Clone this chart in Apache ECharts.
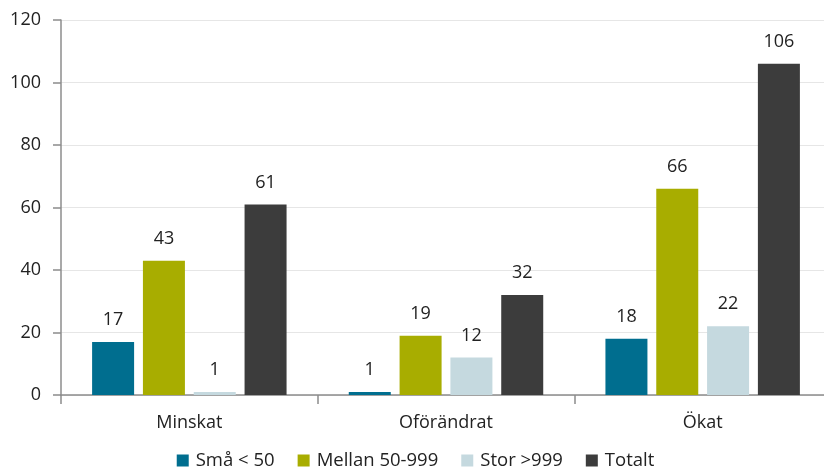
<!DOCTYPE html>
<html><head><meta charset="utf-8">
<script src="https://cdn.jsdelivr.net/npm/echarts@6/dist/echarts.min.js"></script>
<style>html,body{margin:0;padding:0;background:#fff;overflow:hidden;width:824px;height:469px}#c{width:831px;height:469px}</style>
</head><body><div id="c"></div>
<script>
const categories = ["Minskat", "Oförändrat", "Ökat"];
const seriesNames = ["Små < 50", "Mellan 50-999", "Stor >999", "Totalt"];
const smaValues = [17, 1, 18];
const mellanValues = [43, 19, 66];
const storValues = [1, 12, 22];
const totaltValues = [61, 32, 106];
const yTicks = [0, 20, 40, 60, 80, 100, 120];
const colors = ["#006E8F", "#A8AD00", "#C5D9DF", "#3C3C3C"];

const font = "'Open Sans', 'Noto Sans', sans-serif";
const allValues = [smaValues, mellanValues, storValues, totaltValues];
const chart = echarts.init(document.getElementById('c'), null, {renderer: 'canvas'});
chart.setOption({
  animation: false,
  textStyle: {fontFamily: font},
  grid: {left: 61, top: 20, right: 0, bottom: 74, containLabel: false},
  legend: {
    bottom: -6, left: 'center',
    itemWidth: 12, itemHeight: 12, itemGap: 23,
    icon: 'rect',
    textStyle: {fontSize: 18.5, color: '#222', fontFamily: font, padding: [0, 0, 0, 2]},
    data: seriesNames
  },
  xAxis: {
    type: 'category', data: categories,
    axisLine: {lineStyle: {color: '#8c8c8c', width: 1.5}},
    axisTick: {show: true, length: 9, lineStyle: {color: '#8c8c8c', width: 1.5}},
    axisLabel: {fontSize: 18, color: '#222', margin: 19, fontFamily: font}
  },
  yAxis: {
    type: 'value', min: yTicks[0], max: yTicks[yTicks.length-1], interval: 20,
    axisLine: {show: true, lineStyle: {color: '#8c8c8c', width: 1.5}},
    axisTick: {show: true, length: 8, lineStyle: {color: '#8c8c8c', width: 1.5}},
    splitLine: {lineStyle: {color: '#e6e6e6', width: 1}},
    axisLabel: {fontSize: 18, color: '#222', margin: 20, fontFamily: font}
  },
  series: seriesNames.map((n, i) => ({
    name: n, type: 'bar', data: allValues[i],
    barWidth: 42, barGap: '21%',
    itemStyle: {color: colors[i]},
    label: {show: true, position: 'top', distance: 13, fontSize: 18, color: '#222', fontFamily: font}
  }))
});
</script></body></html>
